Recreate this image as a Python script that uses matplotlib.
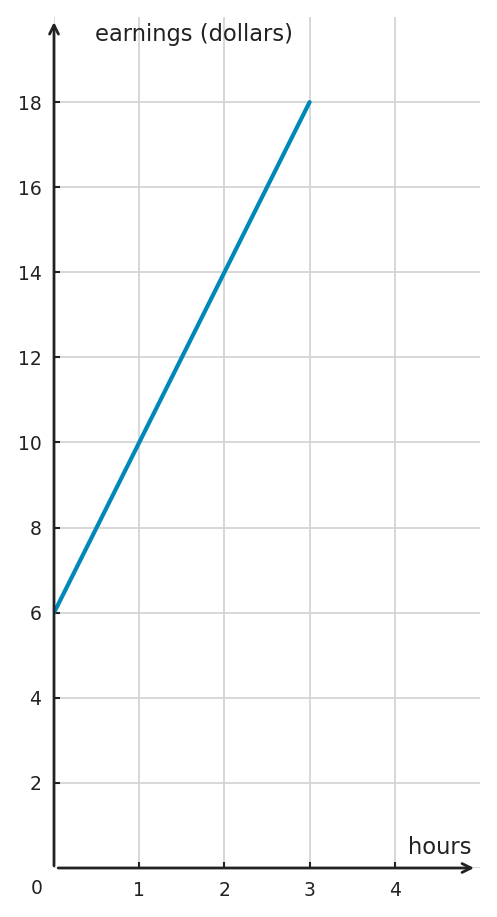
import matplotlib
matplotlib.use("Agg")
import matplotlib.pyplot as plt

# data
hours = [0, 3]
earnings = [6, 18]
xticks = [1, 2, 3, 4]
yticks = [2, 4, 6, 8, 10, 12, 14, 16, 18]

W, H = 497, 917
fig = plt.figure(figsize=(W / 100, H / 100), dpi=100)
x0, x1 = 54, 480
y0, y1 = 868, 17
ax = fig.add_axes([x0 / W, (H - y0) / H, (x1 - x0) / W, (y0 - y1) / H])
ax.set_xlim(0, 5)
ax.set_ylim(0, 20)

for s in ax.spines.values():
    s.set_visible(False)

# grid
for gx in range(0, 5):
    ax.axvline(gx, color="#d4d4d4", lw=1.3, zorder=0)
for gy in range(0, 20, 2):
    ax.axhline(gy, color="#d4d4d4", lw=1.3, zorder=0)

ax.plot(hours, earnings, color="#0088b8", lw=3.0, solid_capstyle="round", zorder=3)

axis_col = "#222222"
arrow = dict(arrowstyle="->", color=axis_col, lw=2.0, mutation_scale=16,
             shrinkA=0, shrinkB=0)
ax.annotate("", xy=(0, 19.88), xytext=(0, 0.05), arrowprops=arrow,
            annotation_clip=False, zorder=4)
ax.annotate("", xy=(4.93, 0), xytext=(0.05, 0), arrowprops=arrow,
            annotation_clip=False, zorder=4)

ax.set_xticks(xticks)
ax.set_yticks(yticks)
ax.set_xticklabels([str(t) for t in xticks])
ax.set_yticklabels([str(t) for t in yticks])
ax.tick_params(axis="both", direction="in", length=4, width=1.5, color=axis_col,
               labelcolor=axis_col, labelsize=13.5)
ax.tick_params(axis="x", pad=9)
ax.tick_params(axis="y", pad=9)

ax.annotate("0", xy=(0, 0), xytext=(-17, -11), textcoords="offset pixels",
            ha="center", va="top", fontsize=13.5, color=axis_col,
            annotation_clip=False)

ax.text(4.9, 0.2, "hours", ha="right", va="bottom", fontsize=16.3, color=axis_col)
ax.text(0.48, 19.6, "earnings (dollars)", ha="left", va="center", fontsize=16.3,
        color=axis_col)

fig.savefig("out.png", dpi=100)
